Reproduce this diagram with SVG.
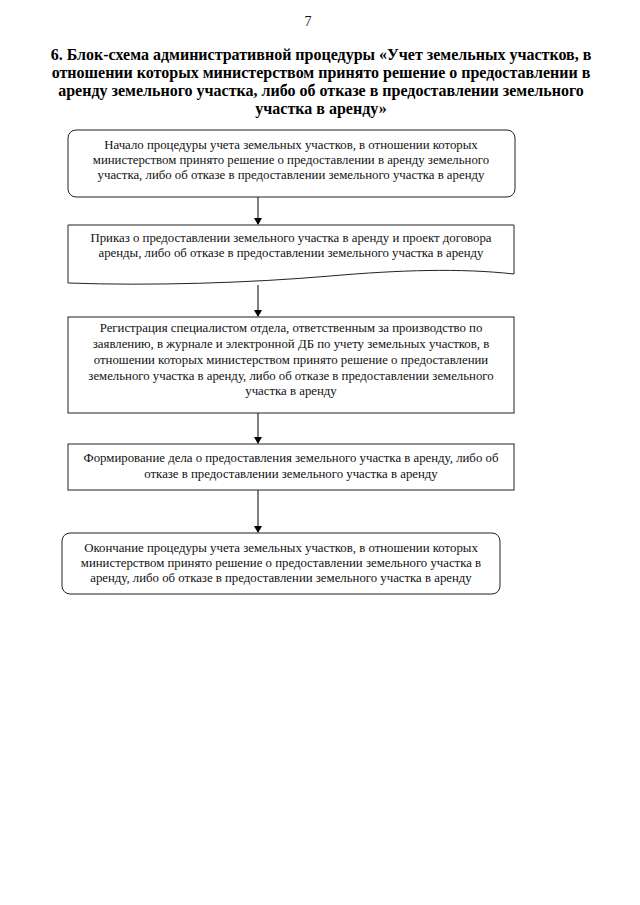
<svg xmlns="http://www.w3.org/2000/svg" width="640" height="905" viewBox="0 0 640 905">
<defs>
<marker id="ah" markerWidth="8" markerHeight="8" refX="6" refY="4" orient="auto" markerUnits="userSpaceOnUse">
<path d="M0,0 L7,4 L0,8 z" fill="#000"/>
</marker>
<style>
.box{fill:#fff;stroke:#222;stroke-width:1}
.t{font-family:"Liberation Serif","Times New Roman",serif;font-size:12.8px;fill:#111;text-anchor:middle}
.h{font-family:"Liberation Serif","Times New Roman",serif;font-size:16px;font-weight:bold;fill:#000;text-anchor:middle}
.c{stroke:#000;stroke-width:1;fill:none;marker-end:url(#ah)}
</style>
</defs>
<rect width="640" height="905" fill="#fff"/>
<text x="308" y="26" class="t" style="font-size:14px">7</text>
<g id="title">
<text x="321" y="60" class="h">6. Блок-схема административной процедуры «Учет земельных участков, в</text>
<text x="321" y="78" class="h">отношении которых министерством принято решение о предоставлении в</text>
<text x="321" y="96" class="h">аренду земельного участка, либо об отказе в предоставлении земельного</text>
<text x="321" y="114" class="h">участка в аренду»</text>
</g>
<g id="connectors">
<line x1="258" y1="197" x2="258" y2="224" class="c"/>
<line x1="258" y1="285" x2="258" y2="316" class="c"/>
<line x1="258" y1="413" x2="258" y2="443" class="c"/>
<line x1="258" y1="490" x2="258" y2="532" class="c"/>
</g>
<g id="n1">
<rect x="68" y="130" width="447" height="67" rx="8" class="box"/>
<text x="291" y="149" class="t">Начало процедуры учета земельных участков, в отношении которых</text>
<text x="291" y="164" class="t">министерством принято решение о предоставлении в аренду земельного</text>
<text x="291" y="179" class="t">участка, либо об отказе в предоставлении земельного участка в аренду</text>
</g>
<g id="n2">
<path d="M68,225 H514 V274 C460,268 400,270 330,276 C250,283 150,286 68,283 Z" class="box"/>
<text x="291" y="242" class="t">Приказ о  предоставлении земельного участка в аренду и проект договора</text>
<text x="291" y="257" class="t">аренды, либо об отказе в предоставлении земельного участка в аренду</text>
</g>
<g id="n3">
<rect x="68" y="317" width="446" height="96" class="box"/>
<text x="291" y="332" class="t">Регистрация специалистом отдела, ответственным за производство по</text>
<text x="291" y="348" class="t">заявлению, в журнале и электронной ДБ по учету земельных участков, в</text>
<text x="291" y="364" class="t">отношении которых министерством принято решение о  предоставлении</text>
<text x="291" y="380" class="t">земельного участка в аренду, либо об отказе  в предоставлении земельного</text>
<text x="291" y="395" class="t">участка в аренду</text>
</g>
<g id="n4">
<rect x="68" y="444" width="446" height="46" class="box"/>
<text x="291" y="462" class="t">Формирование дела о предоставления земельного участка в аренду, либо об</text>
<text x="291" y="478" class="t">отказе в предоставлении земельного участка в аренду</text>
</g>
<g id="n5">
<rect x="62" y="533" width="438" height="61" rx="8" class="box"/>
<text x="281" y="552" class="t">Окончание процедуры учета земельных участков, в отношении которых</text>
<text x="281" y="567" class="t">министерством принято решение о предоставлении земельного участка в</text>
<text x="281" y="582" class="t">аренду, либо об отказе в предоставлении земельного участка в аренду</text>
</g>
</svg>
